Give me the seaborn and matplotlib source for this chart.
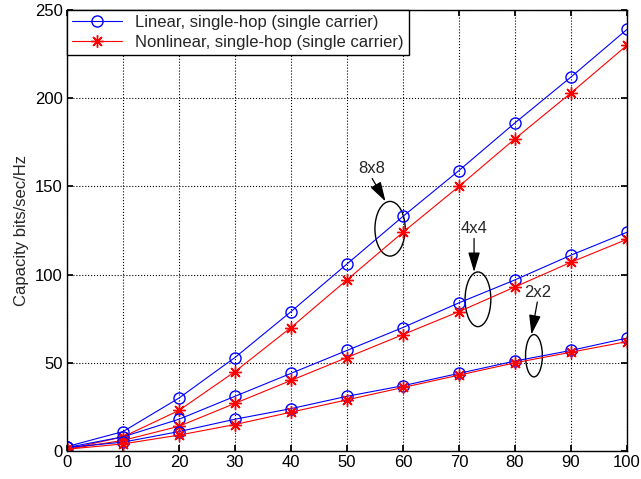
import pandas as pd
import matplotlib.pyplot as plt
import seaborn as sns
from matplotlib.patches import Ellipse

sns.set_theme(style="white")
plt.rcParams['font.family'] = ['Liberation Sans', 'DejaVu Sans']

snr = [0, 10, 20, 30, 40, 50, 60, 70, 80, 90, 100]

# linear (blue) / nonlinear (red) capacity for each antenna configuration
lin_8x8 = [2.5, 11, 30, 53, 79, 106, 133, 159, 186, 212, 239]
nl_8x8 = [1, 8, 23, 45, 70, 97, 124, 150, 177, 203, 230]
lin_4x4 = [2, 8, 18, 31, 44, 57, 70, 84, 97, 111, 124]
nl_4x4 = [1, 6, 14, 27, 40, 53, 66, 79, 93, 107, 120]
lin_2x2 = [2, 5, 11, 18, 24, 31, 37, 44, 51, 57, 64]
nl_2x2 = [1, 4, 9, 15, 22, 29, 36, 43, 50, 56, 62]

fig = plt.figure(figsize=(6.41, 4.79), dpi=100)
ax = fig.add_axes([0.1045, 0.0585, 0.8735, 0.9205])

asterisk = (8, 2, 0)
for i, (lin, nl) in enumerate([(lin_8x8, nl_8x8), (lin_4x4, nl_4x4), (lin_2x2, nl_2x2)]):
    sns.lineplot(x=snr, y=lin, ax=ax, color='blue', marker='o', markersize=8,
                 markerfacecolor='none', markeredgecolor='blue', markeredgewidth=1.0,
                 linewidth=0.8,
                 label='Linear, single-hop (single carrier)' if i == 0 else None)
    sns.lineplot(x=snr, y=nl, ax=ax, color='red', marker=asterisk, markersize=9,
                 markeredgecolor='red', markeredgewidth=1.0, linewidth=0.8,
                 label='Nonlinear, single-hop (single carrier)' if i == 0 else None)

# annotations: ellipse + arrow + label
notes = [('8x8', 54.5, 160, 57.7, 126, 5.4, 31),
         ('4x4', 72.7, 126, 73.4, 86, 4.6, 31),
         ('2x2', 84.0, 90, 83.4, 54, 3.0, 24)]
for txt, tx, ty, ex, ey, ew, eh in notes:
    ax.add_patch(Ellipse((ex, ey), ew, eh, fill=False, edgecolor='black', linewidth=1.0))
    ax.annotate('', xy=(ex - ew * 0.15, ey + eh / 2), xytext=(tx, ty - 5.5),
                arrowprops=dict(arrowstyle='-|>,head_length=1.0,head_width=0.3',
                                color='black', lw=0.9,
                                mutation_scale=12, shrinkA=0, shrinkB=0))
    ax.text(tx, ty, txt, fontsize=12, ha='center', va='center')

ax.set_xlim(0, 100)
ax.set_ylim(0, 250)
ax.set_xticks(range(0, 101, 10))
ax.set_yticks(range(0, 251, 50))
ax.grid(True, color='black', linestyle=':', linewidth=0.8)
ax.tick_params(direction='in', length=4, labelsize=12, colors='black', pad=3,
               top=True, right=True, bottom=True, left=True)
for s in ax.spines.values():
    s.set_color('black')
    s.set_linewidth(1.0)
ax.set_ylabel('Capacity bits/sec/Hz', fontsize=12, labelpad=4)

leg = ax.legend(loc='upper left', fontsize=12, fancybox=False, framealpha=1,
                edgecolor='black', borderaxespad=0, handlelength=3,
                borderpad=0.3, labelspacing=0.3)
leg.get_frame().set_linewidth(1.0)

plt.savefig('out.png', dpi=100)
